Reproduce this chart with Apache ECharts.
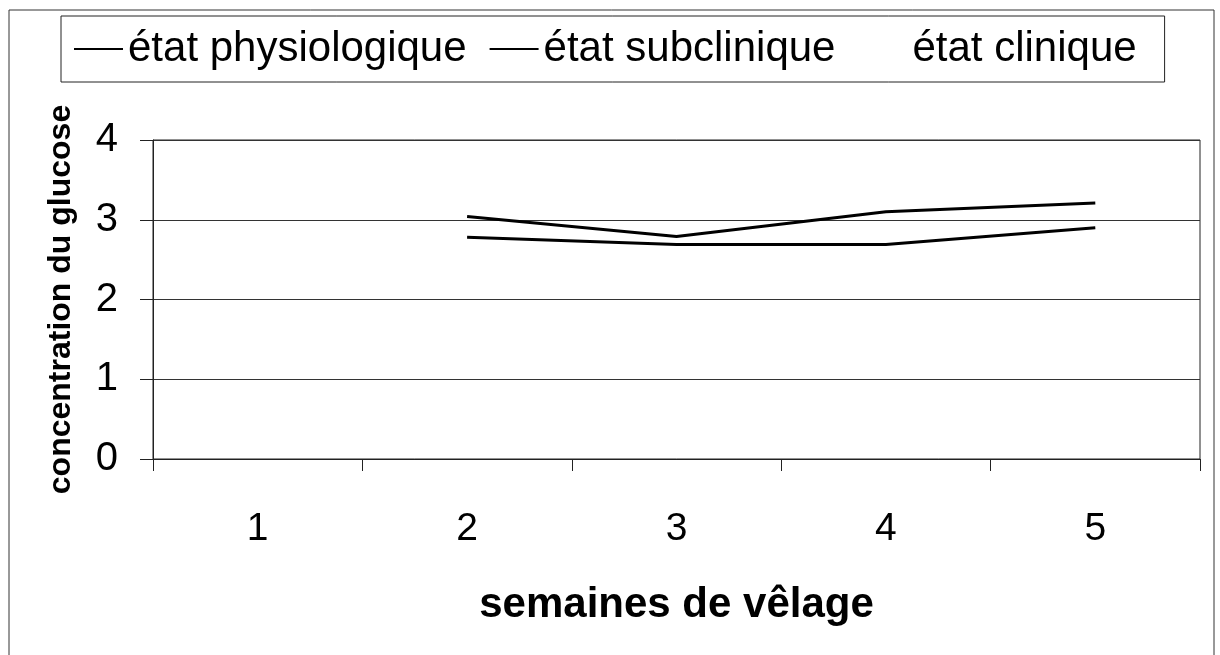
<!DOCTYPE html>
<html>
<head>
<meta charset="utf-8">
<title>concentration du glucose</title>
<script src="https://cdn.jsdelivr.net/npm/echarts@6/dist/echarts.min.js"></script>
<style>
  html, body { margin: 0; padding: 0; background: #fff; }
  #chart { width: 1220px; height: 655px; }
</style>
</head>
<body>
<div id="chart"></div>
<script>
// semaines de vêlage
var semaines = ['1', '2', '3', '4', '5'];
// lectures sur le graphique (semaine 1 vide)
var physiologique = [null, 3.04, 2.79, 3.10, 3.21];
var subclinique = [null, 2.78, 2.69, 2.69, 2.90];
var clinique = [null, null, null, null, null];
var yTicks = [0, 1, 2, 3, 4];

var font = 'Liberation Sans, Arial, sans-serif';
var chart = echarts.init(document.getElementById('chart'));

var option = {
  backgroundColor: '#fff',
  animation: false,
  textStyle: { fontFamily: font, color: '#000' },
  graphic: [{
    type: 'rect',
    shape: { x: 9, y: 10, width: 1205, height: 660 },
    style: { fill: null, stroke: '#333', lineWidth: 1 }
  }],
  legend: {
    left: 61,
    top: 16,
    padding: [12, 28, 12, 13],
    itemGap: 23,
    itemWidth: 49,
    itemHeight: 2,
    borderColor: '#222',
    borderWidth: 1,
    icon: 'rect',
    textStyle: { fontSize: 42, color: '#000', fontFamily: font },
    data: [
      { name: 'état physiologique' },
      { name: 'état subclinique' },
      { name: 'état clinique', itemStyle: { opacity: 0 } }
    ]
  },
  grid: {
    left: 153,
    right: 20,
    top: 140,
    bottom: 196,
    show: true,
    borderColor: '#222',
    borderWidth: 1
  },
  xAxis: {
    type: 'category',
    data: semaines,
    boundaryGap: true,
    name: 'semaines de vêlage',
    nameLocation: 'middle',
    nameGap: 125,
    nameTextStyle: { fontSize: 42, fontWeight: 'bold', color: '#000' },
    axisLine: { lineStyle: { color: '#222', width: 1 } },
    axisTick: { show: true, length: 12, lineStyle: { color: '#222' } },
    axisLabel: { fontSize: 39, color: '#000', margin: 51 },
    splitLine: { show: false }
  },
  yAxis: {
    type: 'value',
    min: yTicks[0],
    max: yTicks[yTicks.length - 1],
    interval: 1,
    name: 'concentration du glucose',
    nameLocation: 'middle',
    nameRotate: 90,
    nameGap: 76,
    nameTextStyle: { fontSize: 32, fontWeight: 'bold', color: '#000' },
    axisLine: { show: true, lineStyle: { color: '#222', width: 1 } },
    axisTick: { show: true, length: 13, lineStyle: { color: '#222' } },
    axisLabel: { fontSize: 40, color: '#000', margin: 35 },
    splitLine: { show: true, lineStyle: { color: '#333', width: 1.2 } }
  },
  series: [
    {
      name: 'état physiologique',
      type: 'line',
      data: physiologique,
      symbol: 'none',
      itemStyle: { color: '#000' },
      lineStyle: { color: '#000', width: 3 }
    },
    {
      name: 'état subclinique',
      type: 'line',
      data: subclinique,
      symbol: 'none',
      itemStyle: { color: '#000' },
      lineStyle: { color: '#000', width: 3 }
    },
    {
      name: 'état clinique',
      type: 'line',
      data: clinique,
      symbol: 'none',
      itemStyle: { color: '#fff' },
      lineStyle: { color: '#fff', width: 3 }
    }
  ]
};

chart.setOption(option);
</script>
</body>
</html>
